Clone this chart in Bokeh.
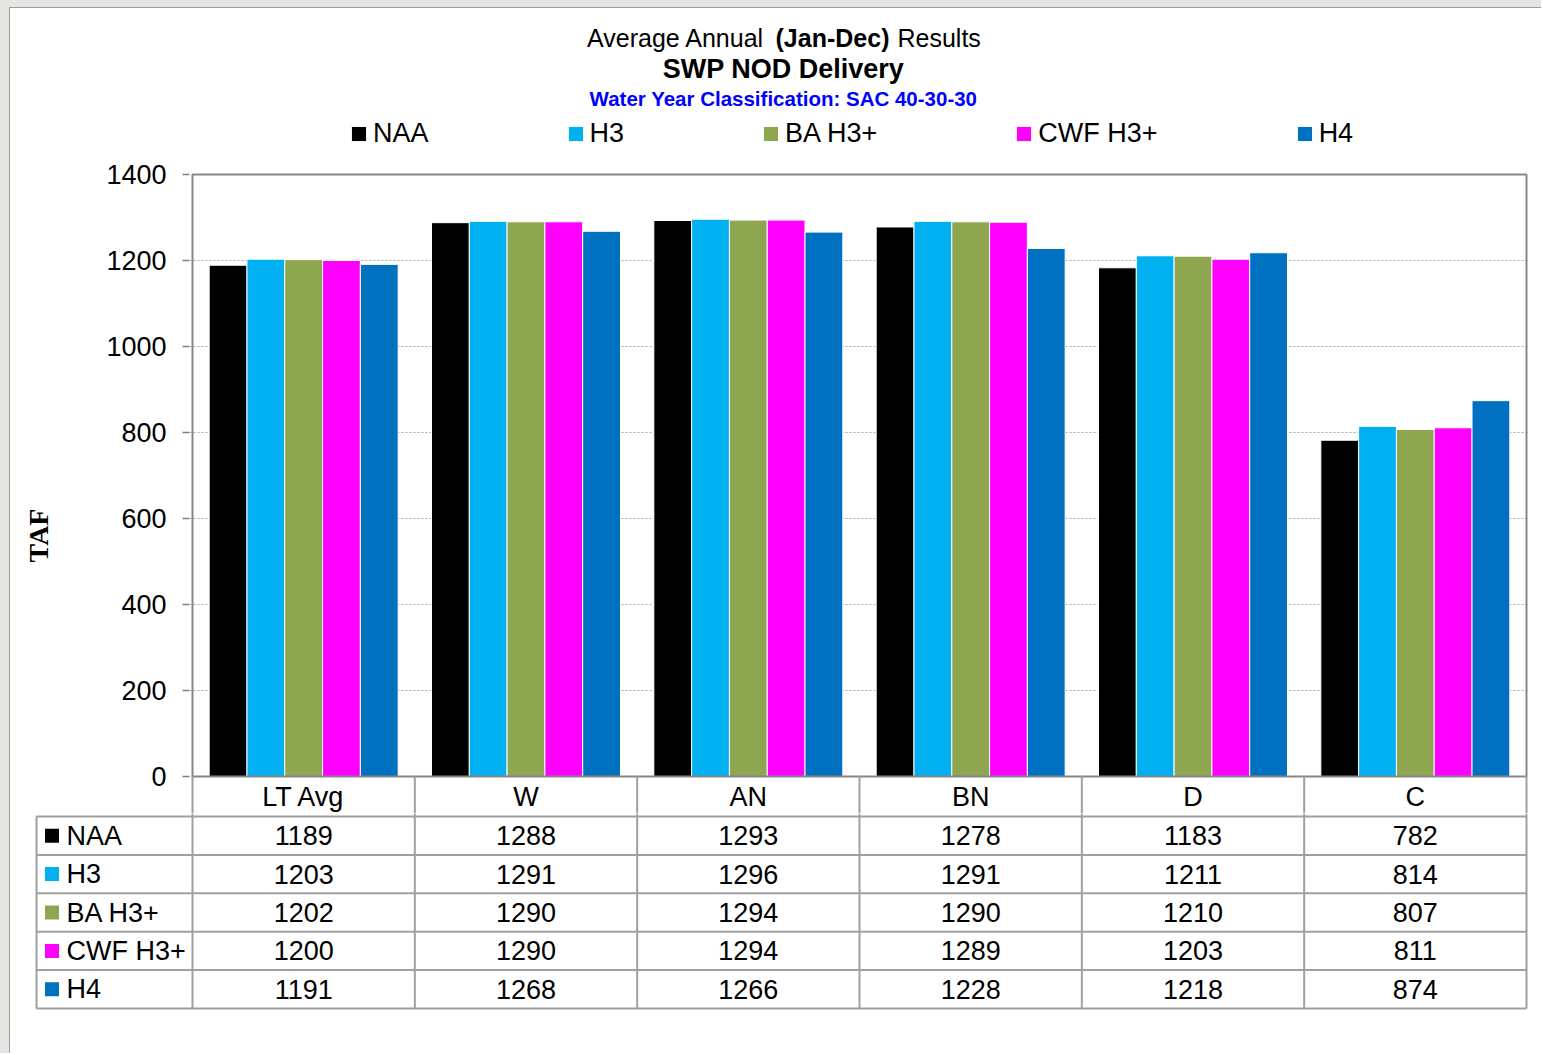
import math
from bokeh.plotting import figure
from bokeh.models import (ColumnDataSource, FactorRange, FixedTicker, Legend, LegendItem,
                          Label, Range1d)
from bokeh.layouts import column, row
from bokeh.transform import dodge
from bokeh.core.properties import value
from bokeh.embed import file_html
from bokeh.resources import INLINE

# ---------------- data ----------------
categories = ["LT Avg", "W", "AN", "BN", "D", "C"]
series_names = ["NAA", "H3", "BA H3+", "CWF H3+", "H4"]
series_colors = ["#000000", "#00b0f0", "#8da64f", "#ff00ff", "#0070c0"]
naa = [1189, 1288, 1293, 1278, 1183, 782]
h3 = [1203, 1291, 1296, 1291, 1211, 814]
ba_h3_plus = [1202, 1290, 1294, 1290, 1210, 807]
cwf_h3_plus = [1200, 1290, 1294, 1289, 1203, 811]
h4 = [1191, 1268, 1266, 1228, 1218, 874]
y_ticks = [0, 200, 400, 600, 800, 1000, 1200, 1400]

title_line1 = ["Average Annual", "(Jan-Dec)", "Results"]
title_line2 = "SWP NOD Delivery"
title_line3 = "Water Year Classification: SAC 40-30-30"
y_label = "TAF"

series_values = [naa, h3, ba_h3_plus, cwf_h3_plus, h4]

# ---------------- layout constants (page px) ----------------
FONT = "Liberation Sans"
TXT = "27px"
OX, OY = 10, 8                      # where the white chart panel starts on the page
RIGHT = 1541
SIDE_W = 80                         # strip that holds the rotated y-axis title
PLOT_L, PLOT_R = 192, 1526          # plot area (page px)
PLOT_T, PLOT_B = 174, 776
HEAD_B = 816                        # bottom of table header row
TABLE_L, TABLE_B = 36, 1008
BOTTOM = 1053
CW = (PLOT_R - PLOT_L) / len(categories)     # px per category
K = y_ticks[-1] / (PLOT_B - PLOT_T)          # data units per px
LC = (PLOT_L - TABLE_L) / CW                 # label column width (category units)
ROW_H = (TABLE_B - HEAD_B) / len(series_names)
PAD = 3
SPLIT = HEAD_B - PAD                          # chart canvas ends / table canvas starts
W = RIGHT - OX
GRID = "#a0a0a0"
BORDER = "#878787"

common = dict(output_backend="svg", toolbar_location=None, tools="",
              background_fill_color="white", border_fill_color="white")

# ---------------- side strip with the y-axis title ----------------
side = figure(width=SIDE_W, height=SPLIT - OY, x_range=Range1d(OX, OX + SIDE_W),
              y_range=Range1d(SPLIT, OY), min_border=0,
              x_axis_location=None, y_axis_location=None, **common)
side.frame_align = False
side.grid.visible = False
side.outline_line_color = None
side.text(x=[38], y=[535], text=[y_label], angle=math.pi / 2,
          text_font=value("Liberation Serif"), text_font_size="28px",
          text_font_style="bold", text_align="center", text_baseline="middle",
          text_color="black")

# ---------------- chart figure (titles, legend, bars, table header) ----------------
src = ColumnDataSource(dict(cat=categories,
                            **{f"s{i}": v for i, v in enumerate(series_values)}))

p = figure(x_range=FactorRange(*categories, range_padding=PAD / CW, range_padding_units="absolute"),
           y_range=Range1d(-(SPLIT - PLOT_B) * K, (PLOT_B - OY) * K),
           width=W - SIDE_W, height=SPLIT - OY,
           min_border_left=PLOT_L - PAD - OX - SIDE_W, min_border_right=RIGHT - (PLOT_R + PAD),
           min_border_top=0, min_border_bottom=0,
           x_axis_location=None, **common)
p.frame_align = False
p.outline_line_color = None

bar_w = 0.17
items = []
for i, (name, color) in enumerate(zip(series_names, series_colors)):
    off = (i - (len(series_names) - 1) / 2) * bar_w
    r = p.vbar(x=dodge("cat", off, range=p.x_range), top=f"s{i}", width=bar_w, source=src,
               fill_color=color, line_color="white", line_width=1)
    items.append(LegendItem(label=name, renderers=[r]))

FL = PLOT_L - PAD      # frame left (page px)
FB = SPLIT             # frame bottom (page px)

legend = Legend(items=items, orientation="horizontal", location=(349 - FL, FB - 149),
                spacing=137, glyph_width=19, glyph_height=19, label_standoff=5,
                label_text_font=FONT, label_text_font_size=TXT, label_text_color="black",
                padding=0, margin=0, border_line_color=None, background_fill_alpha=0)
p.add_layout(legend, "center")

yax = p.yaxis[0]
yax.ticker = FixedTicker(ticks=y_ticks)
yax.axis_line_color = None
yax.major_tick_in = 0
yax.major_tick_out = 7
yax.major_tick_line_color = "#808080"
yax.major_tick_line_width = 1.5
yax.minor_tick_line_color = None
yax.major_label_text_font = FONT
yax.major_label_text_font_size = TXT
yax.major_label_text_color = "black"
yax.major_label_standoff = 16

p.ygrid.ticker = FixedTicker(ticks=y_ticks[1:-1])
p.ygrid.grid_line_color = "#a6a6a6"
p.ygrid.grid_line_dash = "2 2"
p.ygrid.grid_line_width = 1
p.xgrid.grid_line_color = None

n_cols = len(categories)
n_rows = len(series_names)

# plot-area border
p.quad(left=[0], right=[n_cols], bottom=[0], top=[y_ticks[-1]], fill_color=None,
       line_color=BORDER, line_width=2)

# table header row: dividers and category names
bx = list(range(n_cols + 1))
p.segment(x0=bx, y0=[0] * len(bx), x1=bx, y1=[p.y_range.start] * len(bx),
          line_color=GRID, line_width=2)
p.text(x=categories, y=[-(HEAD_B - PLOT_B) / 2 * K] * n_cols, text=categories,
       text_font=value(FONT), text_font_size=TXT, text_align="center",
       text_baseline="middle", text_color="black")


def lab(text, px, py, size, bold=False, color="black", align="center"):
    p.add_layout(Label(x=px - FL, y=FB - py, x_units="screen", y_units="screen", text=text,
                       text_font=FONT, text_font_size=size,
                       text_font_style="bold" if bold else "normal", text_color=color,
                       text_align=align, text_baseline="middle"))


lab(title_line1[0], 764, 37, "25px", align="right")
lab(title_line1[1], 832, 37, "25px", bold=True)
lab(title_line1[2], 897, 37, "25px", align="left")
lab(title_line2, 783, 68, "27px", bold=True)
lab(title_line3, 783, 98, "20.5px", bold=True, color="#0000ff")

# ---------------- table figure (data rows) ----------------
t = figure(width=W, height=BOTTOM - SPLIT,
           x_range=Range1d(-LC - PAD / CW, n_cols + PAD / CW),
           y_range=Range1d(n_rows + PAD / ROW_H, -PAD / ROW_H),
           min_border_left=TABLE_L - PAD - OX, min_border_right=RIGHT - (PLOT_R + PAD),
           min_border_top=0, min_border_bottom=BOTTOM - (TABLE_B + PAD),
           x_axis_location=None, y_axis_location=None, **common)
t.frame_align = False
t.grid.visible = False
t.outline_line_color = None

hy = list(range(n_rows + 1))
t.segment(x0=[-LC] * len(hy), y0=hy, x1=[n_cols] * len(hy), y1=hy,
          line_color=GRID, line_width=2)
vx = [-LC] + list(range(n_cols + 1))
vy0 = [0] + [t.y_range.end] * (n_cols + 1)
t.segment(x0=vx, y0=vy0, x1=vx, y1=[n_rows] * len(vx), line_color=GRID, line_width=2)

cx, cy, ct = [], [], []
for r, vals in enumerate(series_values):
    for c, v in enumerate(vals):
        cx.append(c + 0.5)
        cy.append(r + 0.5)
        ct.append(str(v))
t.text(x=cx, y=cy, text=ct, text_font=value(FONT), text_font_size=TXT,
       text_align="center", text_baseline="middle", text_color="black")

ry = [r + 0.5 for r in range(n_rows)]
t.scatter(x=[-LC + 15.5 / CW] * n_rows, y=ry, marker="square", size=14,
          fill_color=series_colors, line_color=None)
t.text(x=[-LC + 30 / CW] * n_rows, y=ry, text=series_names, text_font=value(FONT),
       text_font_size=TXT, text_align="left", text_baseline="middle", text_color="black")

panel = column(row(side, p, spacing=0), t, spacing=0,
               styles={"border-left": "1px solid #9d9d9d", "border-top": "1px solid #9d9d9d",
                       "background-color": "white"})
page = column(panel, spacing=0,
              styles={"background-color": "#e7e5e2",
                      "padding": f"{OY - 1}px 0px 0px {OX - 1}px"})
open("out.html", "w").write(file_html(page, INLINE))
